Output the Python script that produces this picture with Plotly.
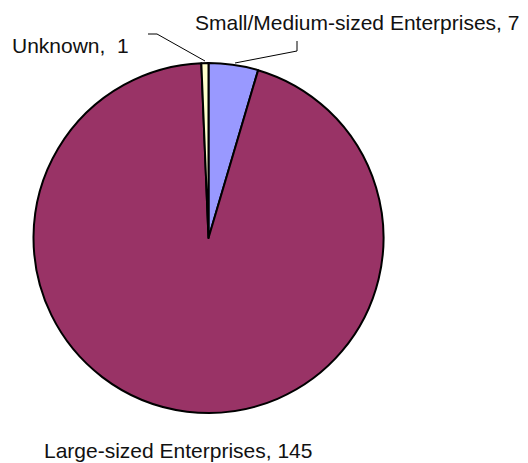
import plotly.graph_objects as go

# Enterprise size breakdown
categories = ["Small/Medium-sized Enterprises", "Large-sized Enterprises", "Unknown"]
counts = [7, 145, 1]
slice_colors = ["#9999FF", "#993366", "#FFFFCC"]

W, H = 528, 463


def px(x):
    return x / W


def py(y):
    return 1 - y / H


cx, cy, r = 208.5, 238, 175

fig = go.Figure(
    go.Pie(
        labels=categories,
        values=counts,
        sort=False,
        direction="clockwise",
        rotation=0,
        textinfo="none",
        hoverinfo="label+value",
        marker=dict(colors=slice_colors, line=dict(color="black", width=2)),
        domain=dict(x=[px(cx - r), px(cx + r)], y=[py(cy + r), py(cy - r)]),
        showlegend=False,
    )
)

font = dict(family="Liberation Sans, Arial, sans-serif", size=21, color="#111111")

label_pos = {
    "Small/Medium-sized Enterprises": (193, 22),
    "Unknown": (10, 45),
    "Large-sized Enterprises": (42, 450),
}
annotations = []
for name, val in zip(categories, counts):
    x, y = label_pos[name]
    sep = ",  " if name == "Unknown" else ", "
    annotations.append(
        dict(
            text=f"{name}{sep}{val}",
            x=px(x), y=py(y), xref="paper", yref="paper",
            xanchor="left", yanchor="middle",
            showarrow=False, font=font,
        )
    )

# leader lines
leaders = [
    [(235, 63), (297, 51), (297, 41)],
    [(205, 61), (157, 34), (148, 34)],
]
shapes = []
for pts in leaders:
    for (x0, y0), (x1, y1) in zip(pts[:-1], pts[1:]):
        shapes.append(
            dict(type="line", xref="paper", yref="paper",
                 x0=px(x0), y0=py(y0), x1=px(x1), y1=py(y1),
                 line=dict(color="black", width=1))
        )

fig.update_layout(
    width=W, height=H,
    margin=dict(l=0, r=0, t=0, b=0),
    paper_bgcolor="white",
    plot_bgcolor="white",
    annotations=annotations,
    shapes=shapes,
)

fig.write_html("out.html")
